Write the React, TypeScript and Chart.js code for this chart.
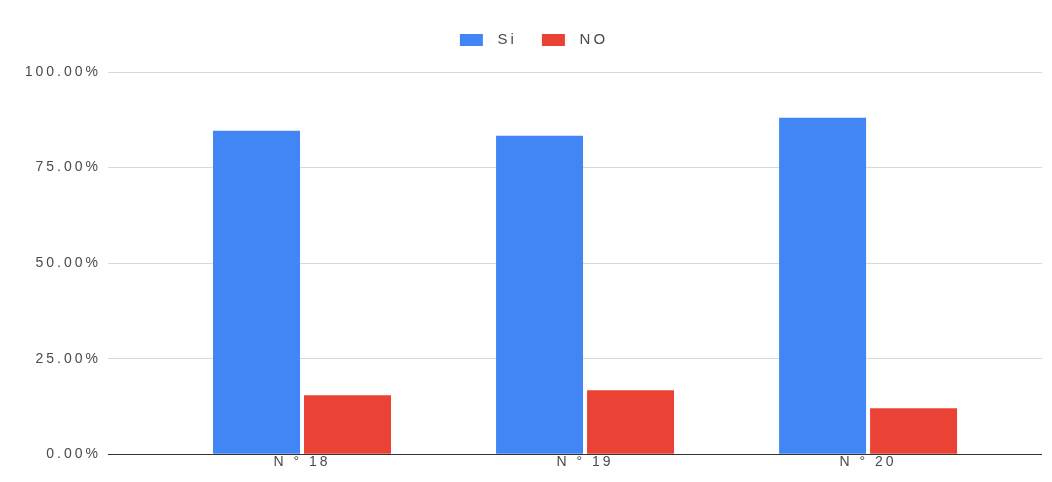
import React, { useEffect, useRef } from "react";
import { Chart, registerables } from "chart.js";

Chart.register(...registerables);

const categories: string[] = ["N ° 18", "N ° 19", "N ° 20"];
const siValues: number[] = [84.6, 83.3, 88.0];
const noValues: number[] = [15.4, 16.7, 12.0];
const seriesNames: string[] = ["Si", "NO"];
const seriesColors: string[] = ["#4285F4", "#EA4335"];
const yMin = 0;
const yMax = 100;
const yStep = 25;

const FONT = "'Liberation Sans', Arial, Helvetica, sans-serif";
const TEXT = "#4a4a4a";
const LETTER_SPACING = "3px";

const letterSpacingPlugin = {
  id: "letterSpacing",
  beforeUpdate(chart: any) {
    chart.ctx.letterSpacing = LETTER_SPACING;
  },
  beforeDraw(chart: any) {
    chart.ctx.letterSpacing = LETTER_SPACING;
  },
};

export default function App() {
  const canvasRef = useRef<HTMLCanvasElement | null>(null);

  useEffect(() => {
    const canvas = canvasRef.current;
    if (!canvas) return;
    const toPoints = (vals: number[]) => vals.map((y, i) => ({ x: i, y }));
    const chart = new Chart(canvas, {
      type: "bar",
      data: {
        datasets: [
          {
            label: seriesNames[0],
            data: toPoints(siValues),
            backgroundColor: seriesColors[0],
            borderWidth: 0,
            categoryPercentage: 0.643,
            barPercentage: 0.956,
          },
          {
            label: seriesNames[1],
            data: toPoints(noValues),
            backgroundColor: seriesColors[1],
            borderWidth: 0,
            categoryPercentage: 0.643,
            barPercentage: 0.956,
          },
        ] as any,
      },
      options: {
        responsive: false,
        animation: false,
        devicePixelRatio: 1,
        layout: { padding: { top: 7.5, right: 10, bottom: 11, left: 26 } },
        scales: {
          x: {
            type: "linear",
            offset: false,
            min: -0.6855,
            max: categories.length - 1 + 0.6145,
            afterBuildTicks: (scale: any) => {
              scale.ticks = categories.map((_, i) => ({ value: i }));
            },
            grid: { display: false, drawTicks: false, offset: false },
            border: { display: false },
            ticks: {
              padding: 0,
              color: TEXT,
              font: { family: FONT, size: 14 },
              callback: (v: any) => categories[v as number] ?? "",
              autoSkip: false,
              maxRotation: 0,
            },
          },
          y: {
            min: yMin,
            max: yMax,
            afterFit: (scale: any) => {
              scale.width = 82;
            },
            grid: {
              drawTicks: false,
              color: (ctx: any) => (ctx.tick && ctx.tick.value === 0 ? "#333333" : "#d9d9d9"),
              lineWidth: 1,
            },
            border: { display: false },
            ticks: {
              stepSize: yStep,
              padding: 7,
              color: TEXT,
              font: { family: FONT, size: 14 },
              callback: (v: any) => Number(v).toFixed(2) + "%",
            },
          },
        },
        plugins: {
          legend: {
            position: "top",
            align: "center",
            labels: {
              boxWidth: 23,
              boxHeight: 12,
              padding: 25,
              color: TEXT,
              font: { family: FONT, size: 15 },
              generateLabels: (c: any) =>
                Chart.defaults.plugins.legend.labels
                  .generateLabels(c)
                  .map((item: any) => ({ ...item, text: " " + item.text })),
            },
          },
          title: {
            display: true,
            text: " ",
            weight: 500,
            font: { size: 1, lineHeight: 1 },
            padding: { top: 0, bottom: 13.5 },
          } as any,
          tooltip: { enabled: false },
        },
      } as any,
      plugins: [letterSpacingPlugin],
    });
    return () => chart.destroy();
  }, []);

  return (
    <div style={{ position: "fixed", left: 0, top: 0, width: 1052, height: 482, background: "#fff" }}>
      <canvas ref={canvasRef} width={1052} height={482} />
    </div>
  );
}
